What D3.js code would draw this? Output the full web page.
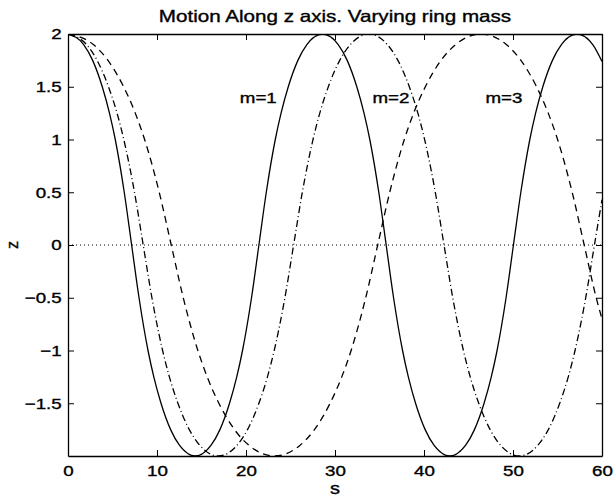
<!DOCTYPE html>
<html>
<head>
<meta charset="utf-8">
<script src="https://cdn.jsdelivr.net/npm/d3@7"></script>
<style>
  body { margin: 0; background: #fff; }
  text { font-family: "Liberation Sans", Arial, sans-serif; fill: #000; stroke: #000; stroke-width: 0.35; }
</style>
</head>
<body>
<div class="chart"></div>
<script>
// values
var titleText = "Motion Along z axis. Varying ring mass";
var xLabelText = "s";
var yLabelText = "z";

var xTicks = [0, 10, 20, 30, 40, 50, 60];
var xTickLabels = ["0", "10", "20", "30", "40", "50", "60"];
var yTicks = [-1.5, -1, -0.5, 0, 0.5, 1, 1.5, 2];
var yTickLabels = ["\u22121.5", "\u22121", "\u22120.5", "0", "0.5", "1", "1.5", "2"];

// m = 1 (solid)
var m1Points = [
  [0, 2], [1.76, 1.9], [2.77, 1.75], [3.85, 1.5], [4.66, 1.25], [5.31, 1], [6.32, 0.5], [7.15, 0],
  [7.98, -0.5], [8.99, -1], [9.64, -1.25], [10.45, -1.5], [11.53, -1.75], [12.54, -1.9], [14.3, -2],
  [16.06, -1.9], [17.07, -1.75], [18.15, -1.5], [18.96, -1.25], [19.61, -1], [20.62, -0.5], [21.45, 0],
  [22.28, 0.5], [23.29, 1], [23.94, 1.25], [24.75, 1.5], [25.83, 1.75], [26.84, 1.9], [28.6, 2],
  [30.36, 1.9], [31.37, 1.75], [32.45, 1.5], [33.26, 1.25], [33.91, 1], [34.92, 0.5], [35.75, 0],
  [36.58, -0.5], [37.59, -1], [38.24, -1.25], [39.05, -1.5], [40.13, -1.75], [41.14, -1.9], [42.9, -2],
  [44.66, -1.9], [45.67, -1.75], [46.75, -1.5], [47.56, -1.25], [48.21, -1], [49.22, -0.5], [50.05, 0],
  [50.88, 0.5], [51.89, 1], [52.54, 1.25], [53.35, 1.5], [54.43, 1.75], [55.44, 1.9], [57.2, 2],
  [58.96, 1.9], [60, 1.74]
];

// m = 2 (dash-dot)
var m2Points = [
  [0, 2], [2.08, 1.9], [3.27, 1.75], [4.55, 1.5], [5.51, 1.25], [6.27, 1], [7.47, 0.5], [8.45, 0],
  [9.43, -0.5], [10.63, -1], [11.39, -1.25], [12.35, -1.5], [13.63, -1.75], [14.82, -1.9], [16.9, -2],
  [18.98, -1.9], [20.17, -1.75], [21.45, -1.5], [22.41, -1.25], [23.17, -1], [24.37, -0.5], [25.35, 0],
  [26.33, 0.5], [27.53, 1], [28.29, 1.25], [29.25, 1.5], [30.53, 1.75], [31.72, 1.9], [33.8, 2],
  [35.88, 1.9], [37.07, 1.75], [38.35, 1.5], [39.31, 1.25], [40.07, 1], [41.27, 0.5], [42.25, 0],
  [43.23, -0.5], [44.43, -1], [45.19, -1.25], [46.15, -1.5], [47.43, -1.75], [48.62, -1.9], [50.7, -2],
  [52.78, -1.9], [53.97, -1.75], [55.25, -1.5], [56.21, -1.25], [56.97, -1], [58.17, -0.5], [59.15, 0],
  [60, 0.43]
];

// m = 3 (dashed)
var m3Points = [
  [0, 2], [2.85, 1.9], [4.49, 1.75], [6.25, 1.5], [7.56, 1.25], [8.61, 1], [10.25, 0.5], [11.6, 0],
  [12.95, -0.5], [14.59, -1], [15.64, -1.25], [16.95, -1.5], [18.71, -1.75], [20.35, -1.9], [23.2, -2],
  [26.05, -1.9], [27.69, -1.75], [29.45, -1.5], [30.76, -1.25], [31.81, -1], [33.45, -0.5], [34.8, 0],
  [36.15, 0.5], [37.79, 1], [38.84, 1.25], [40.15, 1.5], [41.91, 1.75], [43.55, 1.9], [46.4, 2],
  [49.25, 1.9], [50.89, 1.75], [52.65, 1.5], [53.96, 1.25], [55.01, 1], [56.65, 0.5], [58.0, 0],
  [59.35, -0.5], [60, -0.7]
];

var zeroLine = [[0, 0], [60, 0]];

var annotations = [
  { s: 19.3, z: 1.4, label: "m=1" },
  { s: 34.2, z: 1.4, label: "m=2" },
  { s: 46.9, z: 1.4, label: "m=3" }
];

var width = 613, height = 497;
var margin = { top: 34, right: 11, bottom: 41, left: 68 };
var stretch = "scale(1.25,1)"; // the scanned text is wider than it is tall

var svg = d3.select(".chart")
  .append("svg")
  .attr("width", width)
  .attr("height", height);

var xScale = d3.scaleLinear()
  .domain([0, 60])
  .range([margin.left, width - margin.right]);

var yScale = d3.scaleLinear()
  .domain([-2, 2])
  .range([height - margin.bottom, margin.top]);

svg.append("clipPath")
  .attr("id", "plotclip")
  .append("rect")
  .attr("x", margin.left)
  .attr("y", margin.top)
  .attr("width", width - margin.left - margin.right)
  .attr("height", height - margin.top - margin.bottom);

var line = d3.line()
  .x(function(d) { return xScale(d[0]); })
  .y(function(d) { return yScale(d[1]); })
  .curve(d3.curveMonotoneX);

var plot = svg.append("g").attr("clip-path", "url(#plotclip)");

// dotted zero line
plot.append("path")
  .attr("d", d3.line().x(function(d) { return xScale(d[0]); }).y(function(d) { return yScale(d[1]); })(zeroLine))
  .attr("fill", "none")
  .attr("stroke", "#000")
  .attr("stroke-width", 1)
  .attr("stroke-dasharray", "1,3");

var series = [
  { pts: m1Points, dash: null },
  { pts: m2Points, dash: "7,3,1,3" },
  { pts: m3Points, dash: "7,5" }
];

series.forEach(function(sr) {
  plot.append("path")
    .attr("d", line(sr.pts))
    .attr("fill", "none")
    .attr("stroke", "#000")
    .attr("stroke-width", 1.3)
    .attr("stroke-dasharray", sr.dash);
});

// ----------------------------------------------------------
// axes, ticks pointing inward on all four sides

var xAxis = svg.append("g")
  .attr("transform", "translate(0," + (height - margin.bottom) + ")")
  .call(d3.axisBottom(xScale)
    .tickValues(xTicks)
    .tickSizeInner(-6)
    .tickSizeOuter(0)
    .tickPadding(9)
    .tickFormat(function(d, i) { return xTickLabels[i]; }));

var yAxis = svg.append("g")
  .attr("transform", "translate(" + margin.left + ",0)")
  .call(d3.axisLeft(yScale)
    .tickValues(yTicks)
    .tickSizeInner(-6)
    .tickSizeOuter(0)
    .tickPadding(5)
    .tickFormat(function(d, i) { return yTickLabels[i]; }));

svg.append("g")
  .attr("transform", "translate(0," + margin.top + ")")
  .call(d3.axisTop(xScale).tickValues(xTicks).tickSizeInner(-6).tickSizeOuter(0).tickFormat(""));

svg.append("g")
  .attr("transform", "translate(" + (width - margin.right) + ",0)")
  .call(d3.axisRight(yScale).tickValues(yTicks).tickSizeInner(-6).tickSizeOuter(0).tickFormat(""));

svg.selectAll(".domain").attr("stroke", "#000").attr("stroke-width", 1.3);
svg.selectAll(".tick line").attr("stroke", "#000").attr("stroke-width", 1);

xAxis.selectAll("text")
  .attr("font-size", 15)
  .attr("font-family", "Liberation Sans, Arial, sans-serif")
  .attr("transform", stretch);

yAxis.selectAll("text")
  .attr("font-size", 15)
  .attr("font-family", "Liberation Sans, Arial, sans-serif")
  .attr("transform", stretch);

// ----------------------------------------------------------
// title and labels

svg.append("text")
  .attr("transform", "translate(" + ((margin.left + width - margin.right) / 2) + ",22) " + stretch)
  .attr("text-anchor", "middle")
  .attr("font-size", 16.5)
  .text(titleText);

svg.append("text")
  .attr("transform", "translate(" + ((margin.left + width - margin.right) / 2) + ",494) " + stretch)
  .attr("text-anchor", "middle")
  .attr("font-size", 16)
  .text(xLabelText);

svg.append("text")
  .attr("transform", "translate(18," + yScale(0) + ") rotate(-90)")
  .attr("text-anchor", "middle")
  .attr("font-size", 16)
  .text(yLabelText);

svg.selectAll(".annot")
  .data(annotations)
  .enter().append("text")
  .attr("class", "annot")
  .attr("transform", function(d) { return "translate(" + xScale(d.s) + "," + yScale(d.z) + ") " + stretch; })
  .attr("dy", "0.35em")
  .attr("font-size", 15)
  .text(function(d) { return d.label; });
</script>
</body>
</html>
